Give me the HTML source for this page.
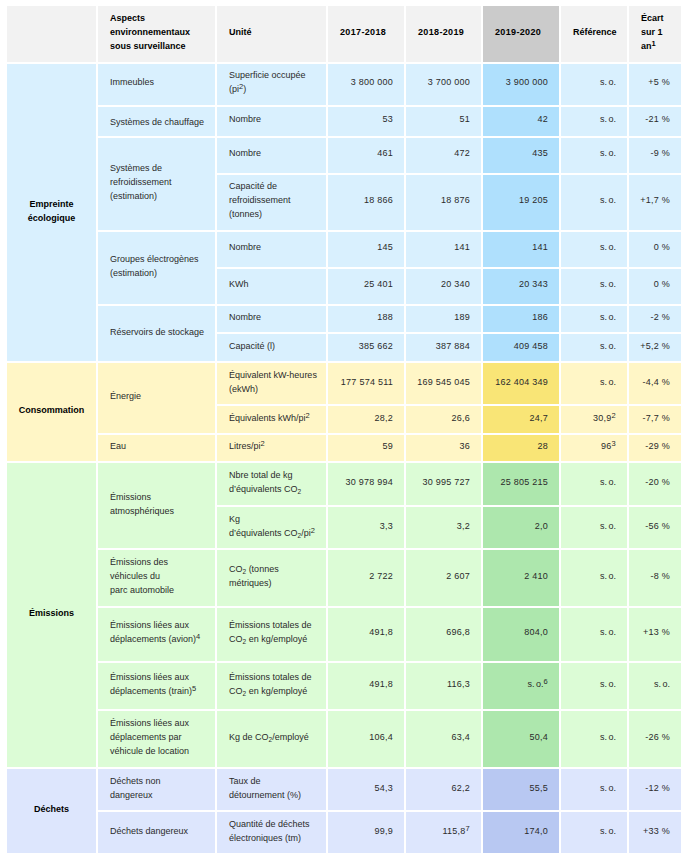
<!DOCTYPE html>
<html><head><meta charset="utf-8">
<style>
html,body{margin:0;padding:0;background:#fff;}
body{width:689px;height:861px;position:relative;overflow:hidden;font-family:"Liberation Sans",sans-serif;font-size:9px;line-height:14px;color:#2b2b2b;}
.cell{position:absolute;box-sizing:border-box;display:flex;align-items:center;padding:0 11px 4px 12px;}
.cell .t{white-space:nowrap;position:relative;}
.so{letter-spacing:0;word-spacing:-1px;}
.cell.r{justify-content:flex-end;letter-spacing:0.25px;}
.cell.b{font-weight:bold;color:#000;}
.cell.y{letter-spacing:0.35px;}
.cell.c{justify-content:center;padding:0 0 4px 0;text-align:center;}
sup{font-size:7.5px;line-height:0;vertical-align:3px;}
sub{font-size:6.5px;line-height:0;vertical-align:-1.5px;}
#w{position:absolute;left:0;top:0;width:689px;height:861px;}
</style></head><body><div id="w">
<div class="cell b" style="left:7px;top:6px;width:89px;height:56px;background:#f2f2f2"><div class="t"></div></div>
<div class="cell b" style="left:98px;top:6px;width:117px;height:56px;background:#f2f2f2"><div class="t">Aspects<br>environnementaux<br>sous surveillance</div></div>
<div class="cell b" style="left:217px;top:6px;width:109px;height:56px;background:#f2f2f2"><div class="t">Unité</div></div>
<div class="cell b y" style="left:328px;top:6px;width:76px;height:56px;background:#f2f2f2"><div class="t">2017-2018</div></div>
<div class="cell b y" style="left:406px;top:6px;width:75px;height:56px;background:#f2f2f2"><div class="t">2018-2019</div></div>
<div class="cell b y" style="left:483px;top:6px;width:76px;height:56px;background:#cbcbcb"><div class="t">2019-2020</div></div>
<div class="cell b" style="left:561px;top:6px;width:66px;height:56px;background:#f2f2f2"><div class="t">Référence</div></div>
<div class="cell b" style="left:629px;top:6px;width:52px;height:56px;background:#f2f2f2"><div class="t">Écart<br>sur 1<br>an<sup>1</sup></div></div>
<div class="cell b c" style="left:7px;top:64px;width:89px;height:297px;background:#d9f0fe"><div class="t">Empreinte<br>écologique</div></div>
<div class="cell l" style="left:98px;top:64px;width:117px;height:41px;background:#d9f0fe"><div class="t" style="top:-1px">Immeubles</div></div>
<div class="cell l" style="left:98px;top:107px;width:117px;height:29px;background:#d9f0fe"><div class="t" style="top:2.5px">Systèmes de chauffage</div></div>
<div class="cell l" style="left:98px;top:138px;width:117px;height:92px;background:#d9f0fe"><div class="t">Systèmes de<br>refroidissement<br>(estimation)</div></div>
<div class="cell l" style="left:98px;top:232px;width:117px;height:72px;background:#d9f0fe"><div class="t">Groupes électrogènes<br>(estimation)</div></div>
<div class="cell l" style="left:98px;top:306px;width:117px;height:55px;background:#d9f0fe"><div class="t">Réservoirs de stockage</div></div>
<div class="cell l" style="left:217px;top:64px;width:109px;height:41px;background:#d9f0fe"><div class="t" style="top:-1px">Superficie occupée<br>(pi<sup>2</sup>)</div></div>
<div class="cell r" style="left:328px;top:64px;width:76px;height:41px;background:#d9f0fe"><div class="t" style="top:-1px">3 800 000</div></div>
<div class="cell r" style="left:406px;top:64px;width:75px;height:41px;background:#d9f0fe"><div class="t" style="top:-1px">3 700 000</div></div>
<div class="cell r" style="left:483px;top:64px;width:76px;height:41px;background:#afe0fd"><div class="t" style="top:-1px">3 900 000</div></div>
<div class="cell r" style="left:561px;top:64px;width:66px;height:41px;background:#d9f0fe"><div class="t" style="top:-1px"><span class="so">s. o.</span></div></div>
<div class="cell r" style="left:629px;top:64px;width:52px;height:41px;background:#d9f0fe"><div class="t" style="top:-1px">+5 %</div></div>
<div class="cell l" style="left:217px;top:107px;width:109px;height:29px;background:#d9f0fe"><div class="t" style="top:-1px">Nombre</div></div>
<div class="cell r" style="left:328px;top:107px;width:76px;height:29px;background:#d9f0fe"><div class="t" style="top:-1px">53</div></div>
<div class="cell r" style="left:406px;top:107px;width:75px;height:29px;background:#d9f0fe"><div class="t" style="top:-1px">51</div></div>
<div class="cell r" style="left:483px;top:107px;width:76px;height:29px;background:#afe0fd"><div class="t" style="top:-1px">42</div></div>
<div class="cell r" style="left:561px;top:107px;width:66px;height:29px;background:#d9f0fe"><div class="t" style="top:-1px"><span class="so">s. o.</span></div></div>
<div class="cell r" style="left:629px;top:107px;width:52px;height:29px;background:#d9f0fe"><div class="t" style="top:-1px">-21 %</div></div>
<div class="cell l" style="left:217px;top:138px;width:109px;height:35px;background:#d9f0fe"><div class="t" style="top:-1px">Nombre</div></div>
<div class="cell r" style="left:328px;top:138px;width:76px;height:35px;background:#d9f0fe"><div class="t" style="top:-1px">461</div></div>
<div class="cell r" style="left:406px;top:138px;width:75px;height:35px;background:#d9f0fe"><div class="t" style="top:-1px">472</div></div>
<div class="cell r" style="left:483px;top:138px;width:76px;height:35px;background:#afe0fd"><div class="t" style="top:-1px">435</div></div>
<div class="cell r" style="left:561px;top:138px;width:66px;height:35px;background:#d9f0fe"><div class="t" style="top:-1px"><span class="so">s. o.</span></div></div>
<div class="cell r" style="left:629px;top:138px;width:52px;height:35px;background:#d9f0fe"><div class="t" style="top:-1px">-9 %</div></div>
<div class="cell l" style="left:217px;top:175px;width:109px;height:55px;background:#d9f0fe"><div class="t" style="top:-1px">Capacité de<br>refroidissement<br>(tonnes)</div></div>
<div class="cell r" style="left:328px;top:175px;width:76px;height:55px;background:#d9f0fe"><div class="t" style="top:-1px">18 866</div></div>
<div class="cell r" style="left:406px;top:175px;width:75px;height:55px;background:#d9f0fe"><div class="t" style="top:-1px">18 876</div></div>
<div class="cell r" style="left:483px;top:175px;width:76px;height:55px;background:#afe0fd"><div class="t" style="top:-1px">19 205</div></div>
<div class="cell r" style="left:561px;top:175px;width:66px;height:55px;background:#d9f0fe"><div class="t" style="top:-1px"><span class="so">s. o.</span></div></div>
<div class="cell r" style="left:629px;top:175px;width:52px;height:55px;background:#d9f0fe"><div class="t" style="top:-1px">+1,7 %</div></div>
<div class="cell l" style="left:217px;top:232px;width:109px;height:35px;background:#d9f0fe"><div class="t" style="top:-1px">Nombre</div></div>
<div class="cell r" style="left:328px;top:232px;width:76px;height:35px;background:#d9f0fe"><div class="t" style="top:-1px">145</div></div>
<div class="cell r" style="left:406px;top:232px;width:75px;height:35px;background:#d9f0fe"><div class="t" style="top:-1px">141</div></div>
<div class="cell r" style="left:483px;top:232px;width:76px;height:35px;background:#afe0fd"><div class="t" style="top:-1px">141</div></div>
<div class="cell r" style="left:561px;top:232px;width:66px;height:35px;background:#d9f0fe"><div class="t" style="top:-1px"><span class="so">s. o.</span></div></div>
<div class="cell r" style="left:629px;top:232px;width:52px;height:35px;background:#d9f0fe"><div class="t" style="top:-1px">0 %</div></div>
<div class="cell l" style="left:217px;top:269px;width:109px;height:35px;background:#d9f0fe"><div class="t" style="top:-1px">KWh</div></div>
<div class="cell r" style="left:328px;top:269px;width:76px;height:35px;background:#d9f0fe"><div class="t" style="top:-1px">25 401</div></div>
<div class="cell r" style="left:406px;top:269px;width:75px;height:35px;background:#d9f0fe"><div class="t" style="top:-1px">20 340</div></div>
<div class="cell r" style="left:483px;top:269px;width:76px;height:35px;background:#afe0fd"><div class="t" style="top:-1px">20 343</div></div>
<div class="cell r" style="left:561px;top:269px;width:66px;height:35px;background:#d9f0fe"><div class="t" style="top:-1px"><span class="so">s. o.</span></div></div>
<div class="cell r" style="left:629px;top:269px;width:52px;height:35px;background:#d9f0fe"><div class="t" style="top:-1px">0 %</div></div>
<div class="cell l" style="left:217px;top:306px;width:109px;height:26px;background:#d9f0fe"><div class="t">Nombre</div></div>
<div class="cell r" style="left:328px;top:306px;width:76px;height:26px;background:#d9f0fe"><div class="t">188</div></div>
<div class="cell r" style="left:406px;top:306px;width:75px;height:26px;background:#d9f0fe"><div class="t">189</div></div>
<div class="cell r" style="left:483px;top:306px;width:76px;height:26px;background:#afe0fd"><div class="t">186</div></div>
<div class="cell r" style="left:561px;top:306px;width:66px;height:26px;background:#d9f0fe"><div class="t"><span class="so">s. o.</span></div></div>
<div class="cell r" style="left:629px;top:306px;width:52px;height:26px;background:#d9f0fe"><div class="t">-2 %</div></div>
<div class="cell l" style="left:217px;top:334px;width:109px;height:27px;background:#d9f0fe"><div class="t">Capacité (l)</div></div>
<div class="cell r" style="left:328px;top:334px;width:76px;height:27px;background:#d9f0fe"><div class="t">385 662</div></div>
<div class="cell r" style="left:406px;top:334px;width:75px;height:27px;background:#d9f0fe"><div class="t">387 884</div></div>
<div class="cell r" style="left:483px;top:334px;width:76px;height:27px;background:#afe0fd"><div class="t">409 458</div></div>
<div class="cell r" style="left:561px;top:334px;width:66px;height:27px;background:#d9f0fe"><div class="t"><span class="so">s. o.</span></div></div>
<div class="cell r" style="left:629px;top:334px;width:52px;height:27px;background:#d9f0fe"><div class="t">+5,2 %</div></div>
<div class="cell b c" style="left:7px;top:363px;width:89px;height:98px;background:#fff6c6"><div class="t">Consommation</div></div>
<div class="cell l" style="left:98px;top:363px;width:117px;height:70px;background:#fff6c6"><div class="t">Énergie</div></div>
<div class="cell l" style="left:98px;top:435px;width:117px;height:26px;background:#fff6c6"><div class="t">Eau</div></div>
<div class="cell l" style="left:217px;top:363px;width:109px;height:41px;background:#fff6c6"><div class="t">Équivalent kW-heures<br>(ekWh)</div></div>
<div class="cell r" style="left:328px;top:363px;width:76px;height:41px;background:#fff6c6"><div class="t">177 574 511</div></div>
<div class="cell r" style="left:406px;top:363px;width:75px;height:41px;background:#fff6c6"><div class="t">169 545 045</div></div>
<div class="cell r" style="left:483px;top:363px;width:76px;height:41px;background:#f9e576"><div class="t">162 404 349</div></div>
<div class="cell r" style="left:561px;top:363px;width:66px;height:41px;background:#fff6c6"><div class="t"><span class="so">s. o.</span></div></div>
<div class="cell r" style="left:629px;top:363px;width:52px;height:41px;background:#fff6c6"><div class="t">-4,4 %</div></div>
<div class="cell l" style="left:217px;top:406px;width:109px;height:27px;background:#fff6c6"><div class="t">Équivalents kWh/pi<sup>2</sup></div></div>
<div class="cell r" style="left:328px;top:406px;width:76px;height:27px;background:#fff6c6"><div class="t">28,2</div></div>
<div class="cell r" style="left:406px;top:406px;width:75px;height:27px;background:#fff6c6"><div class="t">26,6</div></div>
<div class="cell r" style="left:483px;top:406px;width:76px;height:27px;background:#f9e576"><div class="t">24,7</div></div>
<div class="cell r" style="left:561px;top:406px;width:66px;height:27px;background:#fff6c6"><div class="t">30,9<sup>2</sup></div></div>
<div class="cell r" style="left:629px;top:406px;width:52px;height:27px;background:#fff6c6"><div class="t">-7,7 %</div></div>
<div class="cell l" style="left:217px;top:435px;width:109px;height:26px;background:#fff6c6"><div class="t">Litres/pi<sup>2</sup></div></div>
<div class="cell r" style="left:328px;top:435px;width:76px;height:26px;background:#fff6c6"><div class="t">59</div></div>
<div class="cell r" style="left:406px;top:435px;width:75px;height:26px;background:#fff6c6"><div class="t">36</div></div>
<div class="cell r" style="left:483px;top:435px;width:76px;height:26px;background:#f9e576"><div class="t">28</div></div>
<div class="cell r" style="left:561px;top:435px;width:66px;height:26px;background:#fff6c6"><div class="t">96<sup>3</sup></div></div>
<div class="cell r" style="left:629px;top:435px;width:52px;height:26px;background:#fff6c6"><div class="t">-29 %</div></div>
<div class="cell b c" style="left:7px;top:463px;width:89px;height:304px;background:#dcfcd6"><div class="t">Émissions</div></div>
<div class="cell l" style="left:98px;top:463px;width:117px;height:85px;background:#dcfcd6"><div class="t">Émissions<br>atmosphériques</div></div>
<div class="cell l" style="left:98px;top:550px;width:117px;height:56px;background:#dcfcd6"><div class="t">Émissions des<br>véhicules du<br>parc automobile</div></div>
<div class="cell l" style="left:98px;top:608px;width:117px;height:53px;background:#dcfcd6"><div class="t" style="top:-1px">Émissions liées aux<br>déplacements (avion)<sup>4</sup></div></div>
<div class="cell l" style="left:98px;top:663px;width:117px;height:46px;background:#dcfcd6"><div class="t">Émissions liées aux<br>déplacements (train)<sup>5</sup></div></div>
<div class="cell l" style="left:98px;top:711px;width:117px;height:56px;background:#dcfcd6"><div class="t">Émissions liées aux<br>déplacements par<br>véhicule de location</div></div>
<div class="cell l" style="left:217px;top:463px;width:109px;height:42px;background:#dcfcd6"><div class="t">Nbre total de kg<br>d’équivalents CO<sub>2</sub></div></div>
<div class="cell r" style="left:328px;top:463px;width:76px;height:42px;background:#dcfcd6"><div class="t">30 978 994</div></div>
<div class="cell r" style="left:406px;top:463px;width:75px;height:42px;background:#dcfcd6"><div class="t">30 995 727</div></div>
<div class="cell r" style="left:483px;top:463px;width:76px;height:42px;background:#ade7ad"><div class="t">25 805 215</div></div>
<div class="cell r" style="left:561px;top:463px;width:66px;height:42px;background:#dcfcd6"><div class="t"><span class="so">s. o.</span></div></div>
<div class="cell r" style="left:629px;top:463px;width:52px;height:42px;background:#dcfcd6"><div class="t">-20 %</div></div>
<div class="cell l" style="left:217px;top:507px;width:109px;height:41px;background:#dcfcd6"><div class="t">Kg<br>d’équivalents CO<sub>2</sub>/pi<sup>2</sup></div></div>
<div class="cell r" style="left:328px;top:507px;width:76px;height:41px;background:#dcfcd6"><div class="t">3,3</div></div>
<div class="cell r" style="left:406px;top:507px;width:75px;height:41px;background:#dcfcd6"><div class="t">3,2</div></div>
<div class="cell r" style="left:483px;top:507px;width:76px;height:41px;background:#ade7ad"><div class="t">2,0</div></div>
<div class="cell r" style="left:561px;top:507px;width:66px;height:41px;background:#dcfcd6"><div class="t"><span class="so">s. o.</span></div></div>
<div class="cell r" style="left:629px;top:507px;width:52px;height:41px;background:#dcfcd6"><div class="t">-56 %</div></div>
<div class="cell l" style="left:217px;top:550px;width:109px;height:56px;background:#dcfcd6"><div class="t">CO<sub>2</sub> (tonnes<br>métriques)</div></div>
<div class="cell r" style="left:328px;top:550px;width:76px;height:56px;background:#dcfcd6"><div class="t">2 722</div></div>
<div class="cell r" style="left:406px;top:550px;width:75px;height:56px;background:#dcfcd6"><div class="t">2 607</div></div>
<div class="cell r" style="left:483px;top:550px;width:76px;height:56px;background:#ade7ad"><div class="t">2 410</div></div>
<div class="cell r" style="left:561px;top:550px;width:66px;height:56px;background:#dcfcd6"><div class="t"><span class="so">s. o.</span></div></div>
<div class="cell r" style="left:629px;top:550px;width:52px;height:56px;background:#dcfcd6"><div class="t">-8 %</div></div>
<div class="cell l" style="left:217px;top:608px;width:109px;height:53px;background:#dcfcd6"><div class="t" style="top:-1px">Émissions totales de<br>CO<sub>2</sub> en kg/employé</div></div>
<div class="cell r" style="left:328px;top:608px;width:76px;height:53px;background:#dcfcd6"><div class="t" style="top:-1px">491,8</div></div>
<div class="cell r" style="left:406px;top:608px;width:75px;height:53px;background:#dcfcd6"><div class="t" style="top:-1px">696,8</div></div>
<div class="cell r" style="left:483px;top:608px;width:76px;height:53px;background:#ade7ad"><div class="t" style="top:-1px">804,0</div></div>
<div class="cell r" style="left:561px;top:608px;width:66px;height:53px;background:#dcfcd6"><div class="t" style="top:-1px"><span class="so">s. o.</span></div></div>
<div class="cell r" style="left:629px;top:608px;width:52px;height:53px;background:#dcfcd6"><div class="t" style="top:-1px">+13 %</div></div>
<div class="cell l" style="left:217px;top:663px;width:109px;height:46px;background:#dcfcd6"><div class="t">Émissions totales de<br>CO<sub>2</sub> en kg/employé</div></div>
<div class="cell r" style="left:328px;top:663px;width:76px;height:46px;background:#dcfcd6"><div class="t">491,8</div></div>
<div class="cell r" style="left:406px;top:663px;width:75px;height:46px;background:#dcfcd6"><div class="t">116,3</div></div>
<div class="cell r" style="left:483px;top:663px;width:76px;height:46px;background:#ade7ad"><div class="t"><span class="so">s. o.</span><sup>6</sup></div></div>
<div class="cell r" style="left:561px;top:663px;width:66px;height:46px;background:#dcfcd6"><div class="t"><span class="so">s. o.</span></div></div>
<div class="cell r" style="left:629px;top:663px;width:52px;height:46px;background:#dcfcd6"><div class="t"><span class="so">s. o.</span></div></div>
<div class="cell l" style="left:217px;top:711px;width:109px;height:56px;background:#dcfcd6"><div class="t">Kg de CO<sub>2</sub>/employé</div></div>
<div class="cell r" style="left:328px;top:711px;width:76px;height:56px;background:#dcfcd6"><div class="t">106,4</div></div>
<div class="cell r" style="left:406px;top:711px;width:75px;height:56px;background:#dcfcd6"><div class="t">63,4</div></div>
<div class="cell r" style="left:483px;top:711px;width:76px;height:56px;background:#ade7ad"><div class="t">50,4</div></div>
<div class="cell r" style="left:561px;top:711px;width:66px;height:56px;background:#dcfcd6"><div class="t"><span class="so">s. o.</span></div></div>
<div class="cell r" style="left:629px;top:711px;width:52px;height:56px;background:#dcfcd6"><div class="t">-26 %</div></div>
<div class="cell b c" style="left:7px;top:769px;width:89px;height:84px;background:#dde6fd"><div class="t">Déchets</div></div>
<div class="cell l" style="left:98px;top:769px;width:117px;height:41px;background:#dde6fd"><div class="t">Déchets non<br>dangereux</div></div>
<div class="cell l" style="left:98px;top:812px;width:117px;height:41px;background:#dde6fd"><div class="t">Déchets dangereux</div></div>
<div class="cell l" style="left:217px;top:769px;width:109px;height:41px;background:#dde6fd"><div class="t">Taux de<br>détournement (%)</div></div>
<div class="cell r" style="left:328px;top:769px;width:76px;height:41px;background:#dde6fd"><div class="t">54,3</div></div>
<div class="cell r" style="left:406px;top:769px;width:75px;height:41px;background:#dde6fd"><div class="t">62,2</div></div>
<div class="cell r" style="left:483px;top:769px;width:76px;height:41px;background:#b8c8f2"><div class="t">55,5</div></div>
<div class="cell r" style="left:561px;top:769px;width:66px;height:41px;background:#dde6fd"><div class="t"><span class="so">s. o.</span></div></div>
<div class="cell r" style="left:629px;top:769px;width:52px;height:41px;background:#dde6fd"><div class="t">-12 %</div></div>
<div class="cell l" style="left:217px;top:812px;width:109px;height:41px;background:#dde6fd"><div class="t">Quantité de déchets<br>électroniques (tm)</div></div>
<div class="cell r" style="left:328px;top:812px;width:76px;height:41px;background:#dde6fd"><div class="t">99,9</div></div>
<div class="cell r" style="left:406px;top:812px;width:75px;height:41px;background:#dde6fd"><div class="t">115,8<sup>7</sup></div></div>
<div class="cell r" style="left:483px;top:812px;width:76px;height:41px;background:#b8c8f2"><div class="t">174,0</div></div>
<div class="cell r" style="left:561px;top:812px;width:66px;height:41px;background:#dde6fd"><div class="t"><span class="so">s. o.</span></div></div>
<div class="cell r" style="left:629px;top:812px;width:52px;height:41px;background:#dde6fd"><div class="t">+33 %</div></div>
</div></body></html>
